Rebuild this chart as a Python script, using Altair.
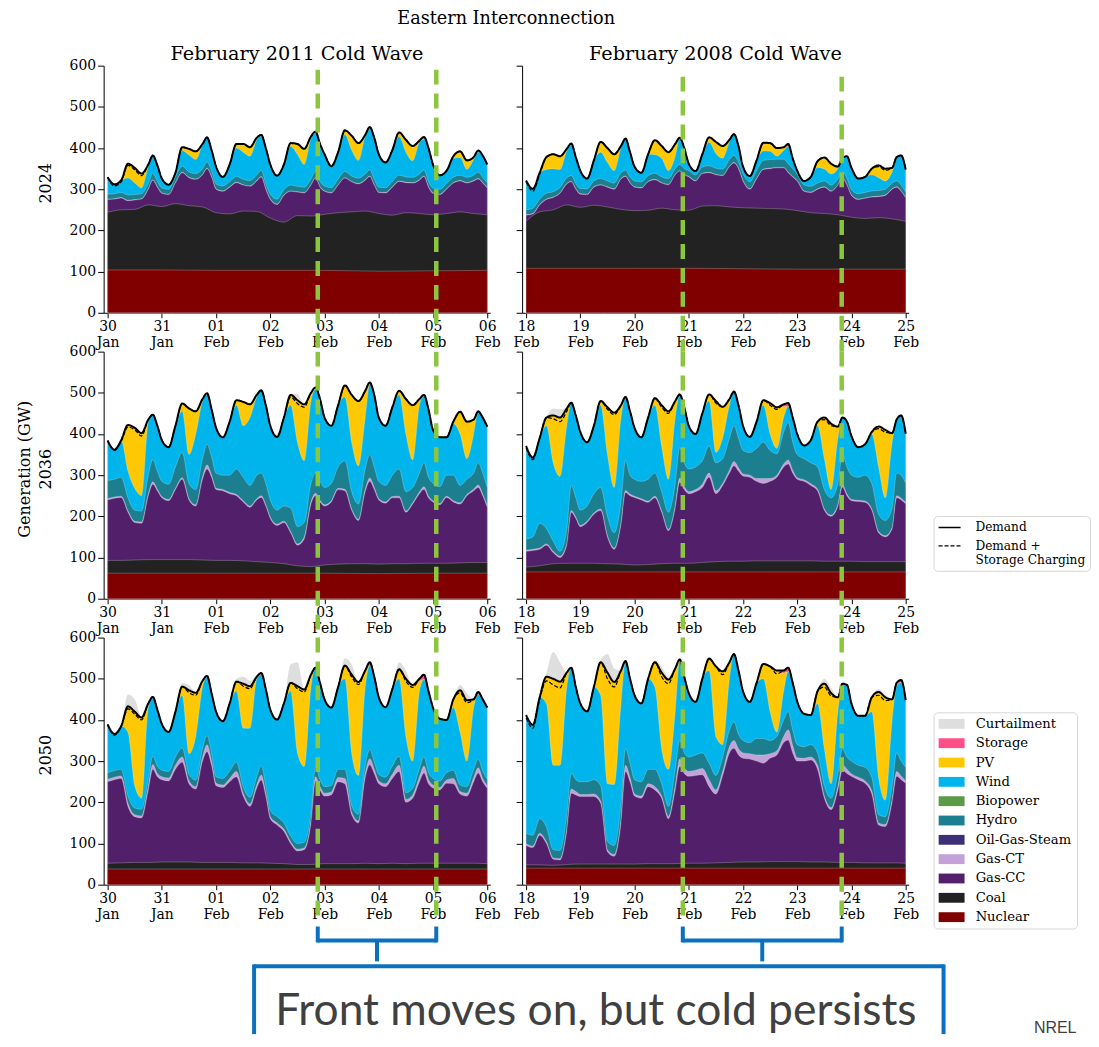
import json
import altair as alt
import pandas as pd

SERIF = "DejaVu Serif"

# ---------------- categories, labels, positions in time ----------------
HOUR_OFFSETS = [0, 3, 6, 9, 12, 15, 18, 20, 22]
GRID_HOURS = [24 * d + h for d in range(7) for h in HOUR_OFFSETS] + [168]
COAL_HOURS = list(range(0, 169, 6))
NUC_HOURS = list(range(0, 169, 24))

CATEGORIES = ["Curtailment", "Storage", "PV", "Wind", "Biopower", "Hydro",
              "Oil-Gas-Steam", "Gas-CT", "Gas-CC", "Coal", "Nuclear"]
COLORS = ["#dedede", "#ff4d88", "#ffc805", "#00b4ec", "#5b9a46", "#1b7f8f",
          "#3d2f75", "#c3a2d9", "#52206a", "#222222", "#800000"]
LINE_KINDS = ["Demand", "Demand + Storage Charging"]

LEFT_TICKS = [["30", "Jan"], ["31", "Jan"], ["01", "Feb"], ["02", "Feb"],
              ["03", "Feb"], ["04", "Feb"], ["05", "Feb"], ["06", "Feb"]]
RIGHT_TICKS = [["18", "Feb"], ["19", "Feb"], ["20", "Feb"], ["21", "Feb"],
               ["22", "Feb"], ["23", "Feb"], ["24", "Feb"], ["25", "Feb"]]
Y_TICKS = [0, 100, 200, 300, 400, 500, 600]

TITLE = "Eastern Interconnection"
COL_TITLES = ["February 2011 Cold Wave", "February 2008 Cold Wave"]
ROW_LABELS = ["2024", "2036", "2050"]
Y_LABEL = "Generation (GW)"
FRONTS_2011 = [3.875, 6.06]
FRONTS_2008 = [2.89, 5.82]
NOTE = "Front moves on, but cold persists"
CREDIT = "NREL"

# ---------------- values (GW, cumulative tops of each band) ----------------
# Panel 1: 2024, February 2011
P1_DEMAND = [329,312,322,362,352,338,360,382,358, 326,311,340,402,398,392,410,426,395,
             355,330,360,410,410,402,425,432,400, 360,333,360,412,410,398,428,440,410,
             385,356,390,443,430,412,432,451,425, 385,365,395,438,420,405,418,427,400,
             360,334,345,380,392,370,378,394,382, 360]
P1_DASHED = [329,308,318,358,347,333,360,382,358, 326,311,340,402,398,392,410,426,395,
             355,330,360,410,410,402,425,432,400, 360,333,360,412,410,398,428,440,410,
             385,356,390,443,430,412,432,451,425, 385,365,395,438,420,405,418,427,400,
             360,334,345,380,392,370,378,394,382, 360]
P1_CURTAIL = [329,312,322,362,352,338,360,382,358, 326,311,340,402,398,392,410,426,395,
              355,330,360,410,410,402,425,432,400, 360,333,360,412,410,398,428,440,410,
              385,356,390,443,430,412,432,451,425, 385,365,395,438,420,405,418,427,400,
              360,334,345,380,392,370,378,394,382, 360]
P1_PV = [329,312,322,362,352,338,360,382,358, 326,311,340,402,398,392,410,426,395,
         355,330,360,410,410,402,425,429,400, 360,333,360,412,410,398,428,435,410,
         385,356,390,443,430,412,432,446,425, 385,365,395,438,420,405,418,421,400,
         360,334,345,380,392,370,378,390,382, 360]
P1_WIND = [329,312,322,327,315,303,355,382,358, 326,311,340,394,383,372,408,426,395,
           355,330,360,400,390,380,420,429,400, 360,333,360,404,385,360,423,435,410,
           385,356,390,433,395,370,428,446,425, 385,365,395,428,390,369,414,421,400,
           360,334,345,375,377,348,372,390,382, 360]
P1_HYDRO = [288,289,292,286,287,289,314,338,319, 303,300,330,356,342,338,350,366,344,
            313,308,318,331,324,321,335,346,314, 288,276,299,310,307,305,325,343,319,
            308,304,325,343,332,327,337,347,324, 305,304,319,334,330,329,337,347,319,
            303,300,314,329,334,329,334,341,329, 316]
P1_GASCT = [276,277,280,273,275,277,301,323,306, 291,288,316,341,329,325,336,351,331,
            301,296,306,317,311,308,321,331,301, 276,264,286,296,294,292,311,328,306,
            296,292,311,328,319,314,323,332,311, 293,292,306,320,317,316,323,332,306,
            291,288,301,316,321,316,321,326,316, 304]
P1_GASCC = [275,276,279,272,274,276,300,322,305, 290,287,315,340,328,324,335,350,330,
            300,295,305,316,310,307,320,330,300, 275,263,285,295,293,291,310,327,305,
            295,291,310,327,318,313,322,331,310, 292,291,305,319,316,315,322,331,305,
            290,287,300,315,320,315,320,325,315, 303]
P1_COAL = [244,250,251,262,258,265,260,257,243,240,247,246,230,220,236,235,239,243,245,247,
           241,237,243,241,238,241,245,241,238]
P1_NUCLEAR = [104,104,103,103,103,101,102,103]

# Panel 2: 2024, February 2008
P2_DEMAND = [321,301,340,378,385,380,398,411,378, 345,326,370,415,400,385,405,423,390,
             355,340,385,419,405,390,410,425,400, 362,344,385,426,415,405,420,434,405,
             355,332,370,413,412,400,402,410,375, 345,320,330,368,377,362,355,376,380,
             352,326,330,350,358,350,352,378,382, 348]
P2_DASHED = [318,295,336,378,385,380,398,411,378, 345,326,370,415,400,385,405,423,390,
             355,340,385,419,405,390,410,425,400, 362,344,385,426,415,405,420,434,405,
             355,332,370,413,412,400,402,410,375, 345,320,330,368,377,362,355,376,380,
             352,326,330,350,355,346,352,378,382, 348]
P2_CURTAIL = [321,301,340,378,385,380,398,411,378, 345,326,370,415,400,385,405,423,390,
              355,340,385,419,405,390,410,425,400, 362,344,385,426,415,405,420,434,405,
              355,332,370,413,412,400,402,410,375, 345,320,330,368,377,362,355,376,380,
              352,326,330,350,358,350,352,378,382, 348]
P2_PV = [321,301,340,378,385,380,398,407,378, 345,326,370,415,400,385,405,423,390,
         355,340,385,419,405,390,410,425,400, 362,344,385,426,415,405,420,434,405,
         355,332,370,408,412,400,402,404,375, 345,320,330,368,377,362,355,376,380,
         352,326,330,350,358,350,352,374,382, 348]
P2_WIND = [321,301,340,348,350,348,393,407,378, 345,326,370,390,365,345,400,423,390,
           355,340,385,384,375,345,380,425,400, 362,344,385,414,387,375,415,434,405,
           355,332,370,393,392,380,394,404,375, 345,320,330,353,349,337,350,376,380,
           352,326,330,335,328,320,342,374,382, 348]
P2_HYDRO = [250,254,276,290,294,304,328,333,314, 302,301,320,326,320,315,340,346,330,
            320,318,333,339,330,326,350,360,350, 345,335,354,357,351,349,372,382,366,
            338,318,345,370,372,373,373,362,350, 336,311,307,315,320,310,325,343,326,
            299,289,292,296,297,300,315,320,310, 293]
P2_GASCT = [238,241,263,276,281,291,314,319,301, 289,288,306,311,306,301,326,332,316,
            306,304,319,324,316,312,336,345,336, 331,321,339,341,336,334,356,365,351,
            321,301,326,349,351,353,353,341,331, 321,296,293,301,306,296,311,328,311,
            286,276,279,282,283,286,301,306,296, 280]
P2_GASCC = [237,240,262,275,280,290,313,318,300, 288,287,305,310,305,300,325,331,315,
            305,303,318,323,315,311,335,344,335, 330,320,338,340,335,333,355,364,350,
            320,300,325,348,350,352,352,340,330, 320,295,292,300,305,295,310,327,310,
            285,275,278,281,282,285,300,305,295, 279]
P2_COAL = [222,245,250,262,256,261,257,251,248,249,254,250,249,259,260,257,255,254,253,252,
           248,243,241,238,232,229,231,228,222]
P2_NUCLEAR = [108,108,108,108,107,106,106,106]

# Panel 3: 2036, February 2011
P3_DEMAND = [384,362,385,422,415,402,435,447,420, 385,368,420,474,462,455,485,499,460,
             415,392,430,482,478,472,495,506,470, 420,393,440,495,482,472,500,513,485,
             440,420,470,518,495,480,505,525,495, 440,420,465,505,485,470,485,495,460,
             410,392,392,430,454,430,435,455,440, 418]
P3_DASHED = [384,360,382,417,410,395,435,447,420, 385,368,420,474,462,455,485,499,460,
             415,392,430,482,478,472,495,506,470, 420,393,440,490,474,465,500,513,485,
             440,420,470,518,495,480,505,525,495, 440,420,465,505,485,470,485,495,460,
             410,392,392,430,454,430,435,455,440, 418]
P3_CURTAIL = [384,362,385,422,415,402,435,447,420, 385,368,420,474,462,455,485,499,460,
              415,392,430,482,478,476,495,506,470, 420,393,440,497,498,472,500,513,485,
              440,420,470,518,495,480,505,525,495, 440,420,465,505,485,470,485,495,460,
              410,392,392,430,454,430,435,455,440, 418]
P3_PV = [384,362,385,422,415,402,435,447,420, 385,368,420,474,462,455,485,496,460,
         415,392,430,482,478,472,495,506,470, 420,393,440,495,482,472,500,509,485,
         440,420,470,518,495,480,505,521,495, 440,420,465,505,485,470,485,492,460,
         410,392,392,430,454,430,435,455,440, 418]
P3_WIND = [384,362,385,310,268,250,430,447,420, 385,368,420,455,350,400,480,496,460,
           415,392,430,470,420,440,490,506,470, 420,393,440,470,380,335,480,509,485,
           440,420,470,490,380,322,440,521,495, 440,420,465,495,400,337,470,492,460,
           410,392,392,425,400,340,400,455,440, 418]
P3_HYDRO = [287,290,295,245,215,213,300,338,310, 285,278,320,355,280,265,340,375,345,
            305,300,300,315,295,275,300,305,280, 240,215,225,220,175,185,280,305,285,
            270,280,320,335,260,230,315,350,320, 285,275,300,315,260,270,305,330,295,
            280,272,300,300,275,290,305,330,305, 270]
P3_GASCT = [243,247,249,213,188,186,254,284,266, 248,241,268,294,243,228,296,325,300,
            268,265,258,253,238,225,243,250,228, 198,181,188,163,133,150,235,256,239,
            228,238,268,266,218,193,265,293,270, 243,235,248,249,213,233,259,272,249,
            238,231,249,238,233,253,266,276,254, 226]
P3_GASCC = [240,244,246,210,185,183,250,278,262, 245,238,265,290,240,225,290,315,295,
            265,262,255,250,235,222,240,246,225, 195,178,185,160,130,145,230,250,235,
            225,235,265,262,215,190,260,285,265, 240,232,245,245,210,230,255,266,245,
            235,228,246,235,230,250,262,270,250, 222]
P3_COAL = [93,93,94,95,95,95,95,94,93,93,92,90,88,85,80,78,82,84,85,85,84,85,85,86,86,
           86,87,88,88]
P3_NUCLEAR = [62,62,62,62,62,61,62,62]

# Panel 4: 2036, February 2008
P4_DEMAND = [371,343,390,440,445,440,462,476,445, 405,380,420,480,465,452,470,490,455,
             415,392,440,487,470,455,480,496,465, 420,400,450,496,480,466,485,503,470,
             420,393,430,482,475,465,472,475,440, 400,372,385,430,440,425,418,440,430,
             395,368,375,405,418,410,402,435,445, 401]
P4_DASHED = [366,338,390,440,437,430,455,476,445, 405,380,420,480,460,447,470,490,455,
             415,392,440,487,465,450,480,496,465, 420,400,450,496,475,466,485,503,470,
             420,393,430,482,470,460,472,475,440, 400,372,385,430,435,420,418,440,430,
             395,368,375,405,413,404,402,435,445, 401]
P4_CURTAIL = [371,343,390,440,462,460,462,476,445, 405,380,420,480,465,452,470,490,455,
              415,392,440,487,470,455,480,496,465, 420,400,450,496,480,466,485,503,470,
              420,393,430,482,475,465,472,475,440, 400,372,385,430,440,425,418,440,430,
              395,368,375,405,418,410,402,435,445, 401]
P4_PV = [371,343,390,440,445,440,462,476,445, 405,380,420,480,465,452,470,488,455,
         415,392,440,487,470,455,480,496,465, 420,400,450,496,480,466,485,503,470,
         420,393,430,482,475,465,467,467,440, 400,372,385,430,440,425,418,440,430,
         395,368,375,405,418,410,402,432,445, 401]
P4_WIND = [371,343,390,420,330,297,420,476,445, 405,380,420,470,350,270,440,488,455,
           415,392,440,470,370,290,440,496,465, 420,400,450,480,355,390,470,503,470,
           420,393,430,470,400,365,440,467,440, 400,372,385,420,340,265,390,440,430,
           395,368,375,400,320,245,380,432,445, 401]
P4_HYDRO = [145,150,183,170,140,115,170,275,245, 215,225,255,270,200,160,235,335,300,
            290,285,290,305,260,210,280,367,330, 315,320,335,371,330,340,390,420,390,
            360,355,365,380,360,352,405,428,380, 350,340,330,320,265,245,280,350,320,
            300,295,300,280,205,190,220,305,300, 280]
P4_GASCT = [118,120,123,133,115,103,133,214,198, 178,188,208,218,153,123,183,263,254,
            249,243,237,249,213,168,225,293,272, 260,265,278,305,262,280,312,333,318,
            303,300,292,292,292,300,327,337,312, 294,289,279,266,218,203,229,277,254,
            241,239,237,218,163,153,173,250,244, 234]
P4_GASCC = [115,117,120,130,112,100,130,210,195, 175,185,205,214,150,120,180,258,250,
            246,240,234,245,210,165,220,283,265, 255,260,270,295,255,275,305,323,310,
            298,295,285,280,285,295,320,327,305, 290,285,275,262,215,200,225,271,250,
            238,236,234,215,160,150,170,245,240, 230]
P4_COAL = [77,80,85,86,86,86,85,84,82,83,85,86,86,88,90,91,91,92,92,92,92,92,91,91,91,
           90,90,90,90]
P4_NUCLEAR = [65,65,65,65,65,65,65,65]

# Panel 5: 2050, February 2011
P5_DEMAND = [389,366,385,433,420,406,440,456,425, 390,371,420,481,472,466,495,507,465,
             420,397,440,493,488,482,505,514,475, 425,401,440,490,482,474,510,527,490,
             450,430,480,532,510,492,520,540,505, 455,431,475,523,500,485,500,510,470,
             430,403,400,450,472,448,450,468,450, 430]
P5_DASHED = [389,363,385,427,414,400,440,456,425, 390,371,420,481,466,460,495,507,465,
             420,397,440,493,482,476,505,514,475, 425,401,440,490,476,468,510,527,490,
             450,430,480,532,504,486,520,540,505, 455,431,475,523,494,479,500,510,470,
             430,403,400,450,466,442,450,468,450, 430]
P5_CURTAIL = [389,366,385,462,450,406,440,456,425, 390,371,420,490,485,466,495,507,465,
              420,397,440,500,505,495,505,514,475, 425,401,440,535,540,474,510,527,490,
              450,430,480,550,535,492,520,540,505, 455,431,475,540,520,485,500,510,470,
              430,403,400,450,485,465,450,468,450, 430]
P5_PV = [389,366,385,433,420,406,440,453,425, 390,371,420,481,472,466,495,503,465,
         420,397,440,493,488,482,505,510,475, 425,401,440,490,482,474,510,527,490,
         450,430,480,532,510,492,520,532,505, 455,431,475,523,500,485,494,498,470,
         430,403,400,450,472,448,450,462,450, 430]
P5_WIND = [389,366,385,370,240,210,430,453,425, 390,371,420,460,318,360,480,503,465,
           420,397,440,470,380,380,500,510,475, 425,401,440,470,320,287,480,527,490,
           450,430,480,500,320,265,480,532,505, 455,431,475,500,360,300,470,498,470,
           430,403,400,430,370,300,430,462,450, 430]
P5_HYDRO = [272,277,280,215,186,183,256,312,288, 278,275,310,332,268,254,330,362,318,
            262,258,276,297,238,212,262,288,240, 180,165,150,118,100,103,175,285,255,
            238,241,280,280,192,171,290,328,298, 268,261,288,312,223,234,282,310,273,
            258,252,272,278,242,238,280,305,276, 256]
P5_GASCT = [256,261,264,197,170,167,238,292,270, 262,259,290,310,252,238,310,340,300,
            246,242,258,275,222,196,243,266,222, 165,150,135,104,86,89,155,262,238,
            222,225,260,258,176,155,270,306,280, 252,245,268,290,207,218,262,288,255,
            242,236,254,258,226,222,260,284,258, 240]
P5_GASCC = [250,255,258,190,165,162,230,280,262, 255,252,280,297,245,232,300,323,290,
            240,236,250,262,215,190,235,254,215, 160,145,130,100,82,85,150,252,230,
            215,218,250,245,170,150,260,291,270, 245,238,258,275,200,210,250,271,245,
            235,230,246,245,220,215,250,271,250, 234]
P5_COAL = [52,53,54,54,55,55,55,54,54,54,53,53,52,51,49,49,51,51,51,52,51,52,51,52,52,
           52,52,52,51]
P5_NUCLEAR = [38,38,38,38,38,38,38,38]

# Panel 6: 2050, February 2008
P6_DEMAND = [412,388,455,505,500,493,515,527,480, 440,421,480,540,515,492,520,543,500,
             460,440,500,540,515,498,525,547,505, 465,444,500,549,530,518,540,560,520,
             470,444,490,536,530,520,520,527,490, 445,415,412,470,488,465,455,488,485,
             440,410,410,455,468,455,450,490,497, 448]
P6_DASHED = [405,380,450,495,485,478,515,527,480, 440,421,480,540,500,480,520,543,500,
             460,440,500,540,505,488,525,547,505, 465,444,500,549,530,510,540,560,520,
             470,444,490,536,530,512,520,527,490, 445,415,412,470,480,458,455,488,485,
             440,410,410,455,460,447,450,490,497, 448]
P6_CURTAIL = [412,388,455,512,565,540,515,527,480, 440,421,480,545,560,525,520,543,500,
              460,440,500,545,530,505,525,547,505, 465,444,500,552,530,518,540,560,520,
              470,444,490,536,530,520,520,527,490, 445,415,412,470,500,478,455,488,485,
              440,410,410,455,475,462,450,490,497, 448]
P6_PV = [412,388,455,505,500,493,515,527,480, 440,421,480,540,515,492,520,543,500,
         460,437,500,540,515,498,525,547,505, 465,444,500,549,530,518,540,560,520,
         470,444,490,536,530,520,514,517,490, 445,415,412,470,488,465,455,484,485,
         440,410,410,455,468,455,450,482,491, 448]
P6_WIND = [412,388,455,440,290,290,480,527,480, 440,421,480,460,245,243,440,543,500,
           460,437,500,480,330,280,420,547,505, 465,444,500,520,360,340,500,560,520,
           470,444,490,500,420,370,470,517,490, 445,415,412,440,330,245,420,484,485,
           440,410,410,420,260,205,400,482,491, 448]
P6_HYDRO = [125,120,160,140,85,83,170,270,255, 250,250,255,240,105,95,195,330,295,
            255,250,280,280,245,190,280,350,320, 310,315,320,295,265,310,375,395,365,
            350,345,355,355,350,360,400,420,375, 340,335,340,320,240,210,270,330,310,
            300,290,285,260,170,165,240,320,300, 285]
P6_GASCT = [99,94,125,104,65,63,135,232,226, 219,219,220,203,84,73,157,290,260,
            220,215,245,238,215,165,240,305,284, 275,278,282,255,230,275,335,350,330,
            320,318,315,315,318,325,360,376,338, 308,307,310,290,215,187,238,292,280,
            269,261,252,228,150,146,207,275,264, 252]
P6_GASCC = [95,90,120,100,62,60,130,222,218, 214,214,214,198,80,69,150,275,250,
            215,210,238,230,210,160,230,287,270, 263,265,267,238,220,265,320,331,315,
            307,305,300,295,307,315,345,351,320, 300,300,303,280,210,182,230,278,270,
            263,255,246,220,145,141,200,263,255, 246]
P6_COAL = [48,48,47,49,50,50,50,50,50,51,51,51,52,52,53,54,55,55,56,56,56,55,55,54,54,
           53,53,53,52]
P6_NUCLEAR = [40,40,40,40,40,40,40,40]

# ---------------- chart construction ----------------
W, H = 388, 248
BLUE = "#0b70bf"
GREEN = "#8cc63f"
XSCALE = alt.Scale(domain=[-0.0735, 7.055], nice=False, zero=False)
YSCALE = alt.Scale(domain=[0, 600], nice=False)
COLOR_SCALE = alt.Scale(domain=CATEGORIES, range=COLORS)
DASH_SCALE = alt.Scale(domain=LINE_KINDS, range=[[1, 0], [4, 2]])

COLOR_LEGEND = alt.Legend(
    title=None, orient="none", legendX=833, legendY=649,
    symbolType="M-1,-0.76H3V0.76H-1Z", symbolSize=169, symbolStrokeWidth=0,
    symbolOpacity=1, labelFont=SERIF, labelFontSize=13.2, labelColor="black",
    labelOffset=24, rowPadding=5.4, padding=5, strokeColor="#d6d6d6",
    cornerRadius=4, fillColor="white", labelLimit=300)
DASH_LEGEND = alt.Legend(
    title=None, orient="none", legendX=833, legendY=452,
    symbolType="M-1,0H2.4", symbolSize=169, symbolStrokeWidth=1.4,
    symbolStrokeColor="black", labelFont=SERIF, labelFontSize=12.2,
    labelColor="black", labelOffset=23, rowPadding=4.5, padding=4,
    strokeColor="#d6d6d6", cornerRadius=4, fillColor="white", labelLimit=300,
    labelExpr="datum.label == 'Demand + Storage Charging' ? ['Demand +', 'Storage Charging'] : datum.label")


def make_axes(ticks, show_y):
    expr = json.dumps(ticks).replace('"', "'") + "[round(datum.value)]"
    xa = alt.Axis(values=list(range(8)), labelExpr=expr, title=None, grid=False,
                  tickSize=5, labelPadding=2, labelLineHeight=16, labelFont=SERIF,
                  labelFontSize=14, labelColor="black", domainColor="black",
                  tickColor="black", labelAngle=0, labelOverlap=False,
                  labelFlush=False)
    ya = alt.Axis(values=Y_TICKS, labels=show_y, title=None, grid=False, tickSize=6,
                  labelPadding=2, labelFont=SERIF, labelFontSize=14,
                  labelColor="black", domainColor="black", tickColor="black")
    return xa, ya


def text_layer(s, px, py, size, angle=None, font=SERIF, color="black"):
    kw = dict(font=font, fontSize=size, color=color, align="center", baseline="middle")
    if angle is not None:
        kw["angle"] = angle
    return alt.Chart(pd.DataFrame({"s": [s]})).mark_text(**kw).encode(
        x=alt.value(px), y=alt.value(py), text="s:N")


def panel(cols, coal, nuc, ticks, show_y, fronts, rule_top, texts, bottom=False):
    for k, v in cols.items():
        assert len(v) == len(GRID_HOURS), (k, len(v))
    assert len(coal) == len(COAL_HOURS) and len(nuc) == len(NUC_HOURS)
    xa, ya = make_axes(ticks, show_y)
    X = alt.X("t:Q", scale=XSCALE, axis=xa)
    grid = pd.DataFrame({"t": [h / 24 for h in GRID_HOURS], **cols})
    coal_df = pd.DataFrame({"t": [h / 24 for h in COAL_HOURS], "coal": coal})
    nuc_df = pd.DataFrame({"t": [h / 24 for h in NUC_HOURS], "nuc": nuc})

    def area(df, field, name, edge=True):
        mk = dict(interpolate="monotone")
        if edge:
            mk.update(stroke="white", strokeWidth=0.7, strokeOpacity=0.35)
        return alt.Chart(df).transform_calculate(series=f"'{name}'").mark_area(**mk).encode(
            x=X, y=alt.Y(f"{field}:Q", scale=YSCALE, axis=ya, stack=None),
            color=alt.Color("series:N", scale=COLOR_SCALE, legend=COLOR_LEGEND))

    def line(field, kind, width):
        return alt.Chart(grid).transform_calculate(kind=f"'{kind}'").mark_line(
            interpolate="monotone", color="black", strokeWidth=width).encode(
            x=X, y=alt.Y(f"{field}:Q", scale=YSCALE, axis=ya),
            strokeDash=alt.StrokeDash("kind:N", scale=DASH_SCALE, legend=DASH_LEGEND))

    layers = [
        area(grid, "curt", "Curtailment", edge=False),
        area(grid, "dem", "Storage", edge=False),
        area(grid, "pv", "PV"),
        area(grid, "wind", "Wind"),
        area(grid, "hyd", "Hydro"),
        area(grid, "ct", "Gas-CT"),
        area(grid, "cc", "Gas-CC"),
        area(coal_df, "coal", "Coal"),
        area(nuc_df, "nuc", "Nuclear"),
        line("dem", "Demand", 2),
        line("dsc", "Demand + Storage Charging", 1.2),
        alt.Chart(pd.DataFrame({"t": fronts})).mark_rule(
            color=GREEN, strokeWidth=4.5, strokeDash=[15, 9]).encode(
            x=X, y=alt.value(rule_top), y2=alt.value(H + 39)),
    ]
    if bottom:
        br = pd.DataFrame({"a": [fronts[0]], "b": [fronts[1]]})
        layers.append(alt.Chart(br).mark_rule(color=BLUE, strokeWidth=4).encode(
            x=alt.X("a:Q", scale=XSCALE, axis=xa), x2="b:Q", y=alt.value(304)))
        layers.append(alt.Chart(pd.DataFrame({"t": fronts})).mark_rule(
            color=BLUE, strokeWidth=4).encode(x=X, y=alt.value(290), y2=alt.value(306)))
        layers.append(alt.Chart(br).transform_calculate(m="(datum.a + datum.b) / 2")
                      .mark_rule(color=BLUE, strokeWidth=4).encode(
            x=alt.X("m:Q", scale=XSCALE, axis=xa), y=alt.value(304), y2=alt.value(325)))
    layers.extend(texts)
    return alt.layer(*layers).properties(width=W, height=H)


def cols(dem, dsc, curt, pv, wind, hyd, ct, cc):
    return {"dem": dem, "dsc": dsc, "curt": curt, "pv": pv, "wind": wind,
            "hyd": hyd, "ct": ct, "cc": cc}


box_one = pd.DataFrame({"k": [0]})
note_layers = [
    alt.Chart(box_one).mark_rule(color=BLUE, strokeWidth=4).encode(
        x=alt.value(151), x2=alt.value(843), y=alt.value(330)),
    alt.Chart(box_one).mark_rule(color=BLUE, strokeWidth=4).encode(
        x=alt.value(151), y=alt.value(328), y2=alt.value(398)),
    alt.Chart(box_one).mark_rule(color=BLUE, strokeWidth=4).encode(
        x=alt.value(843), y=alt.value(328), y2=alt.value(398)),
    text_layer(NOTE, 494, 376, 44.5, font="Lato", color="#404040"),
    text_layer(CREDIT, 955, 392, 16, font="Liberation Sans", color="#404040"),
]

p11 = panel(cols(P1_DEMAND, P1_DASHED, P1_CURTAIL, P1_PV, P1_WIND, P1_HYDRO, P1_GASCT, P1_GASCC),
            P1_COAL, P1_NUCLEAR, LEFT_TICKS, True, FRONTS_2011, 4,
            [text_layer(TITLE, 404, -47, 17.7), text_layer(COL_TITLES[0], 194, -12, 19.3),
             text_layer(ROW_LABELS[0], -58, 118, 16, angle=270)])
p12 = panel(cols(P2_DEMAND, P2_DASHED, P2_CURTAIL, P2_PV, P2_WIND, P2_HYDRO, P2_GASCT, P2_GASCC),
            P2_COAL, P2_NUCLEAR, RIGHT_TICKS, False, FRONTS_2008, 11,
            [text_layer(COL_TITLES[1], 194, -12, 19.3)])
p21 = panel(cols(P3_DEMAND, P3_DASHED, P3_CURTAIL, P3_PV, P3_WIND, P3_HYDRO, P3_GASCT, P3_GASCC),
            P3_COAL, P3_NUCLEAR, LEFT_TICKS, True, FRONTS_2011, 0,
            [text_layer(ROW_LABELS[1], -58, 118, 16, angle=270),
             text_layer(Y_LABEL, -79, 118, 16, angle=270)])
p22 = panel(cols(P4_DEMAND, P4_DASHED, P4_CURTAIL, P4_PV, P4_WIND, P4_HYDRO, P4_GASCT, P4_GASCC),
            P4_COAL, P4_NUCLEAR, RIGHT_TICKS, False, FRONTS_2008, 0, [])
p31 = panel(cols(P5_DEMAND, P5_DASHED, P5_CURTAIL, P5_PV, P5_WIND, P5_HYDRO, P5_GASCT, P5_GASCC),
            P5_COAL, P5_NUCLEAR, LEFT_TICKS, True, FRONTS_2011, 0,
            [text_layer(ROW_LABELS[2], -58, 118, 16, angle=270)] + note_layers, bottom=True)
p32 = panel(cols(P6_DEMAND, P6_DASHED, P6_CURTAIL, P6_PV, P6_WIND, P6_HYDRO, P6_GASCT, P6_GASCC),
            P6_COAL, P6_NUCLEAR, RIGHT_TICKS, False, FRONTS_2008, 0, [], bottom=True)

chart = alt.concat(p11, p12, p21, p22, p31, p32, columns=2,
                   spacing={"row": 39, "column": 32}, bounds="flush").properties(
    padding={"left": 9, "top": 0, "right": 0, "bottom": 0}
).configure_view(stroke=None)

chart.save("out.html", embed_options={"renderer": "svg", "actions": False})
